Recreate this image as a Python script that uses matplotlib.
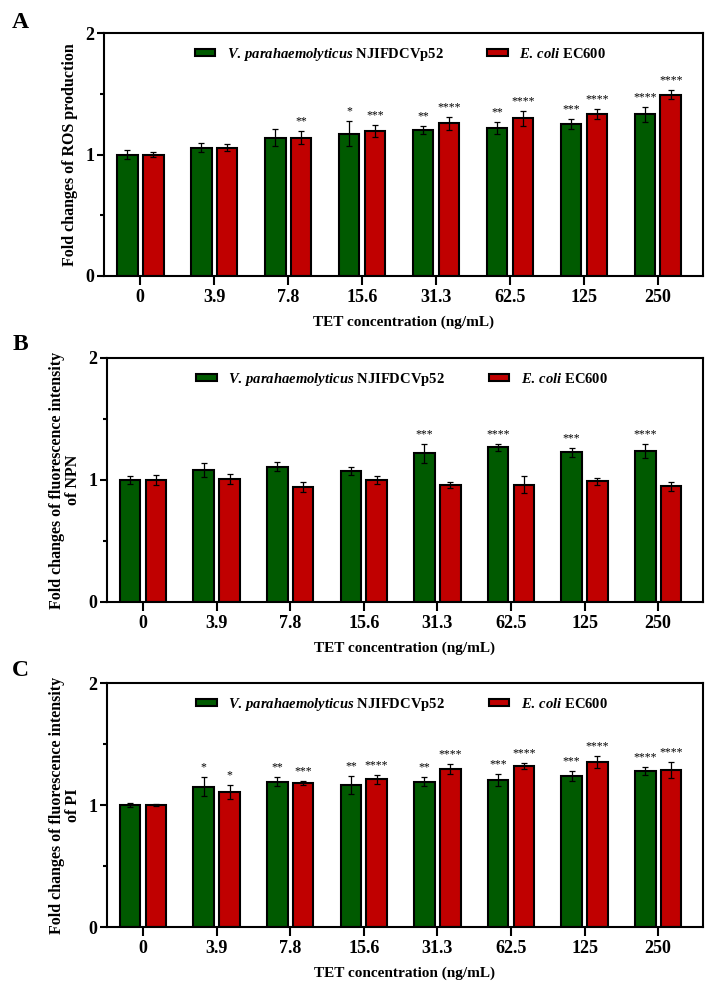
import numpy as np
import matplotlib
matplotlib.use('Agg')
import matplotlib.pyplot as plt

plt.rcParams['font.family'] = ['Liberation Serif', 'DejaVu Serif']
plt.rcParams['font.weight'] = 'bold'
plt.rcParams['mathtext.fontset'] = 'custom'
plt.rcParams['mathtext.it'] = 'Liberation Serif:italic:bold'
plt.rcParams['mathtext.rm'] = 'Liberation Serif:bold'

# === data ===
concentrations = ['0', '3.9', '7.8', '15.6', '31.3', '62.5', '125', '250']

ros_vp = [1.00, 1.057, 1.139, 1.172, 1.205, 1.216, 1.249, 1.331]
ros_vp_err = [0.04, 0.035, 0.07, 0.10, 0.033, 0.05, 0.04, 0.06]
ros_vp_sig = ['', '', '', '*', '**', '**', '***', '****']
ros_ec = [1.00, 1.057, 1.139, 1.194, 1.257, 1.298, 1.331, 1.492]
ros_ec_err = [0.02, 0.028, 0.055, 0.046, 0.055, 0.063, 0.04, 0.038]
ros_ec_sig = ['', '', '**', '***', '****', '****', '****', '****']

npn_vp = [1.00, 1.083, 1.11, 1.072, 1.218, 1.267, 1.226, 1.240]
npn_vp_err = [0.03, 0.055, 0.04, 0.035, 0.08, 0.03, 0.04, 0.057]
npn_vp_sig = ['', '', '', '', '***', '****', '***', '****']
npn_ec = [1.00, 1.01, 0.944, 1.00, 0.958, 0.963, 0.988, 0.947]
npn_ec_err = [0.04, 0.04, 0.04, 0.03, 0.025, 0.07, 0.03, 0.035]
npn_ec_sig = ['', '', '', '', '', '', '', '']

pi_vp = [1.00, 1.15, 1.19, 1.167, 1.19, 1.205, 1.24, 1.279]
pi_vp_err = [0.02, 0.08, 0.038, 0.073, 0.038, 0.052, 0.041, 0.03]
pi_vp_sig = ['', '*', '**', '**', '**', '***', '***', '****']
pi_ec = [1.00, 1.104, 1.183, 1.21, 1.295, 1.322, 1.355, 1.29]
pi_ec_err = [0.012, 0.057, 0.017, 0.038, 0.044, 0.025, 0.049, 0.065]
pi_ec_sig = ['', '*', '***', '****', '****', '****', '****', '****']

green = '#005a00'
red = '#c00000'
bar_w = 0.28
offset = 0.175

panels = [
    ('A', 'Fold changes of ROS production', ros_vp, ros_vp_err, ros_vp_sig, ros_ec, ros_ec_err, ros_ec_sig),
    ('B', 'Fold changes of fluorescence intensity\nof NPN', npn_vp, npn_vp_err, npn_vp_sig, npn_ec, npn_ec_err, npn_ec_sig),
    ('C', 'Fold changes of fluorescence intensity\nof PI', pi_vp, pi_vp_err, pi_vp_sig, pi_ec, pi_ec_err, pi_ec_sig),
]

# axes rectangles in pixels: left, top, right, bottom
W, H = 722, 993
rects = [(104, 33, 703, 276), (107, 358, 703, 602), (107, 683, 703, 927)]
letter_y = [22, 345, 671]

fig = plt.figure(figsize=(7.22, 9.93), dpi=100)
x = np.arange(len(concentrations))

for (letter, ylabel, vp, vp_err, vp_sig, ec, ec_err, ec_sig), (l, t, r, b), ly in zip(panels, rects, letter_y):
    ax = fig.add_axes([l / W, 1 - b / H, (r - l) / W, (b - t) / H])
    ax.bar(x - offset, vp, bar_w, color=green, edgecolor='black', linewidth=1.5,
           label=r'$\it{V.\,parahaemolyticus}$ NJIFDCVp52', zorder=2)
    ax.bar(x + offset, ec, bar_w, color=red, edgecolor='black', linewidth=1.5,
           label=r'$\it{E.\,coli}$ EC600', zorder=2)
    ax.errorbar(x - offset, vp, yerr=vp_err, fmt='none', ecolor='black', elinewidth=0.9, capsize=2.5, capthick=0.9, zorder=3)
    ax.errorbar(x + offset, ec, yerr=ec_err, fmt='none', ecolor='black', elinewidth=0.9, capsize=2.5, capthick=0.9, zorder=3)

    for i in range(len(x)):
        if vp_sig[i]:
            ax.text(x[i] - offset, vp[i] + vp_err[i] + 0.03, vp_sig[i], ha='center', va='bottom',
                    fontsize=8.5, fontweight='normal')
        if ec_sig[i]:
            ax.text(x[i] + offset, ec[i] + ec_err[i] + 0.03, ec_sig[i], ha='center', va='bottom',
                    fontsize=8.5, fontweight='normal')

    ax.set_xlim(-0.49, 7.61)
    ax.set_ylim(0, 2)
    ax.set_xticks(x)
    ax.set_xticklabels(concentrations, fontsize=13, fontweight='bold')
    ax.set_yticks([0, 1, 2])
    ax.set_yticklabels(['0', '1', '2'], fontsize=13, fontweight='bold')
    ax.set_yticks([0.5, 1.5], minor=True)
    ax.tick_params(axis='x', which='major', direction='out', length=6.5, width=1.5, pad=3)
    ax.tick_params(axis='y', which='major', direction='out', length=5, width=1.5, pad=2)
    ax.tick_params(axis='y', which='minor', direction='out', length=3, width=1.5)
    for sp in ax.spines.values():
        sp.set_linewidth(1.5)

    ax.set_ylabel(ylabel, fontsize=11.5, fontweight='bold', linespacing=1.0, labelpad=5)
    ax.set_xlabel('TET concentration (ng/mL)', fontsize=11, fontweight='bold', labelpad=7)

    ax.legend(loc='upper center', bbox_to_anchor=(0.495, 1.0), ncol=2, frameon=False,
              fontsize=10.5, handlelength=1.4, handleheight=0.35, handletextpad=0.8, columnspacing=3.0)

    fig.text(20 / W, 1 - ly / H, letter, fontsize=17, fontweight='bold', ha='center', va='center')

fig.savefig('out.png', dpi=100)
